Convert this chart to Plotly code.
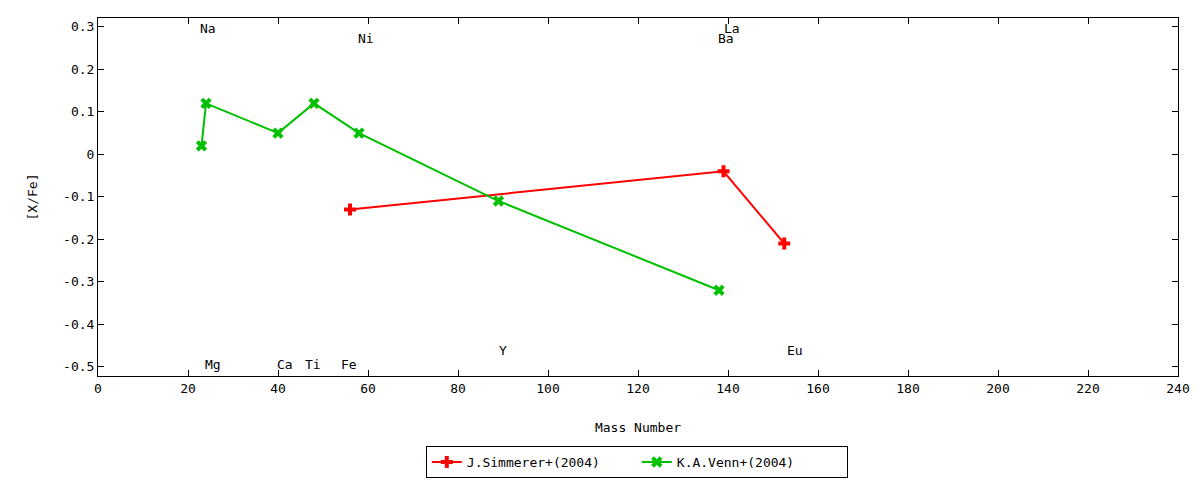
import plotly.graph_objects as go

# J.Simmerer+(2004)
simmerer_mass = [56, 139, 152.5]
simmerer_xfe = [-0.13, -0.04, -0.21]

# K.A.Venn+(2004)
venn_mass = [23, 24, 40, 48, 58, 89, 138]
venn_xfe = [0.02, 0.12, 0.05, 0.12, 0.05, -0.11, -0.32]

# element labels
elem_names = ["Na", "Mg", "Ca", "Ti", "Fe", "Ni", "Y", "Ba", "La", "Eu"]
elem_x = [22.2, 23.3, 39.3, 45.6, 53.6, 57.3, 88.7, 137.3, 138.6, 152.7]
elem_y = [0.296, -0.495, -0.495, -0.495, -0.495, 0.272, -0.461, 0.272, 0.296, -0.461]

xticks = list(range(0, 241, 20))
yticks = [-0.5, -0.4, -0.3, -0.2, -0.1, 0, 0.1, 0.2, 0.3]
yticklabels = ["-0.5", "-0.4", "-0.3", "-0.2", "-0.1", "0", "0.1", "0.2", "0.3"]

font = "DejaVu Sans Mono"
fsize = 13

fig = go.Figure()
fig.add_trace(go.Scatter(
    x=simmerer_mass, y=simmerer_xfe, mode="lines+markers",
    name="J.Simmerer+(2004)",
    line=dict(color="#ff0000", width=2),
    marker=dict(symbol="cross", size=10, color="#ff0000"),
))
fig.add_trace(go.Scatter(
    x=venn_mass, y=venn_xfe, mode="lines+markers",
    name="K.A.Venn+(2004)",
    line=dict(color="#00c000", width=2),
    marker=dict(symbol="x", size=10, color="#00c000"),
))

for name, x, y in zip(elem_names, elem_x, elem_y):
    fig.add_annotation(x=x, y=y, text=name, showarrow=False,
                       xanchor="left", yanchor="middle",
                       font=dict(family=font, size=fsize, color="black"))

axis_common = dict(showline=True, linecolor="black", linewidth=1, mirror="ticks",
                   ticks="inside", ticklen=6, tickcolor="black", showgrid=False,
                   zeroline=False, automargin=False,
                   tickfont=dict(family=font, size=fsize, color="black"))

fig.update_xaxes(range=[0, 240], tickvals=xticks,
                 title=dict(text="Mass Number", font=dict(family=font, size=fsize, color="black"), standoff=28),
                 **axis_common)
fig.update_yaxes(range=[-0.522, 0.321], tickvals=yticks, ticktext=yticklabels,
                 title=dict(text="[X/Fe]", font=dict(family=font, size=fsize, color="black"), standoff=22),
                 **axis_common)

fig.update_layout(
    width=1200, height=480,
    margin=dict(l=90, r=30, t=10, b=112),
    plot_bgcolor="white", paper_bgcolor="white",
    font=dict(family=font, size=fsize, color="black"),
    legend=dict(orientation="h", x=0.524, xanchor="center", xref="container",
                y=0.054, yanchor="middle", yref="container",
                entrywidth=165, bordercolor="black", borderwidth=1, bgcolor="white",
                font=dict(family=font, size=fsize, color="black")),
)

fig.write_html("out.html")
